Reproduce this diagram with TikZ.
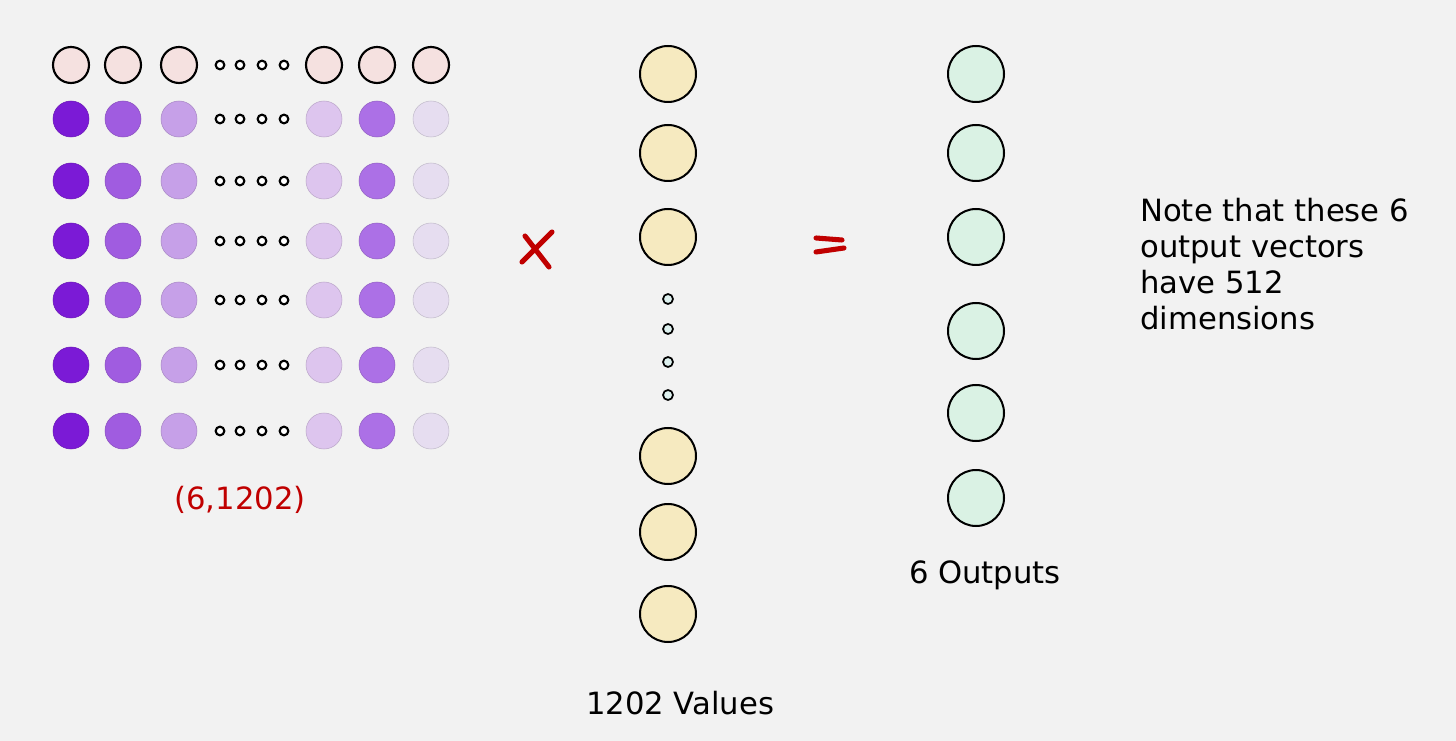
\documentclass[tikz,border=0pt]{standalone}
\usepackage{fontspec}
\setmainfont{DejaVu Sans}
\definecolor{bgcol}{HTML}{F2F2F2}
\definecolor{headfill}{HTML}{F5E1E0}
\definecolor{vone}{HTML}{7B1AD6}
\definecolor{vtwo}{HTML}{A05CE0}
\definecolor{vthree}{HTML}{C6A0E8}
\definecolor{vfive}{HTML}{DDC5EE}
\definecolor{vsix}{HTML}{AC70E6}
\definecolor{vseven}{HTML}{E6DDF0}
\definecolor{valfill}{HTML}{F6EAC0}
\definecolor{outfill}{HTML}{DAF2E4}
\definecolor{dotfill}{HTML}{DDF0EE}
\definecolor{opred}{HTML}{C00000}
\begin{document}
\begin{tikzpicture}[x=0.75pt,y=-0.75pt,
    cell/.style={circle,minimum size=27pt,inner sep=0pt},
    big/.style={circle,draw,line width=1.5pt,minimum size=42pt,inner sep=0pt},
    dot/.style={circle,draw,line width=1.6pt,fill=white,minimum size=6.5pt,inner sep=0pt},
    txt/.style={font=\fontsize{23}{27}\selectfont}]
    \fill[bgcol] (0,0) rectangle (1456,741);
    % matrix (6,1202)
    \foreach \x [count=\i] in {71,123,179,324,377,431}
        \node[cell,draw,line width=1.6pt,fill=headfill] (h\i) at (\x,65){};
    \foreach \y [count=\r] in {119,181,241,300,365,431}
        \foreach \x/\c [count=\i] in {71/vone,123/vtwo,179/vthree,324/vfive,377/vsix,431/vseven}
            \node[cell,fill=\c,draw=\c!85!black,line width=0.4pt] (m\r\i) at (\x,\y){};
    \foreach \y [count=\r] in {65,119,181,241,300,365,431}
        \foreach \x [count=\i] in {220,240,262,284}
            \node[dot] (d\r\i) at (\x,\y){};
    \node[txt,opred] (shape) at (240,500){(6,1202)};
    % operators
    \draw[opred,line width=3.8pt,line cap=round] (525,236) -- (549,267) (522,262) -- (552,232);
    \draw[opred,line width=3.8pt,line cap=round] (816,238) -- (842,240) (816,252) -- (844,248);
    % values column
    \foreach \y [count=\i] in {74,153,237,456,532,614}
        \node[big,fill=valfill] (v\i) at (668,\y){};
    \foreach \y [count=\i] in {299,329,362,395}
        \node[dot,line width=1.3pt,fill=dotfill,minimum size=7.5pt] (vd\i) at (668,\y){};
    \node[txt] (values) at (680,703){1202 Values};
    % outputs column
    \foreach \y [count=\i] in {74,153,237,331,413,498}
        \node[big,fill=outfill] (o\i) at (976,\y){};
    \node[txt] (outputs) at (985,575){6 Outputs};
    \node[txt,anchor=north west,align=left,inner sep=0pt] (note) at (1140,198)
        {Note that these 6\\output vectors\\have 512\\dimensions};
\end{tikzpicture}
\end{document}
